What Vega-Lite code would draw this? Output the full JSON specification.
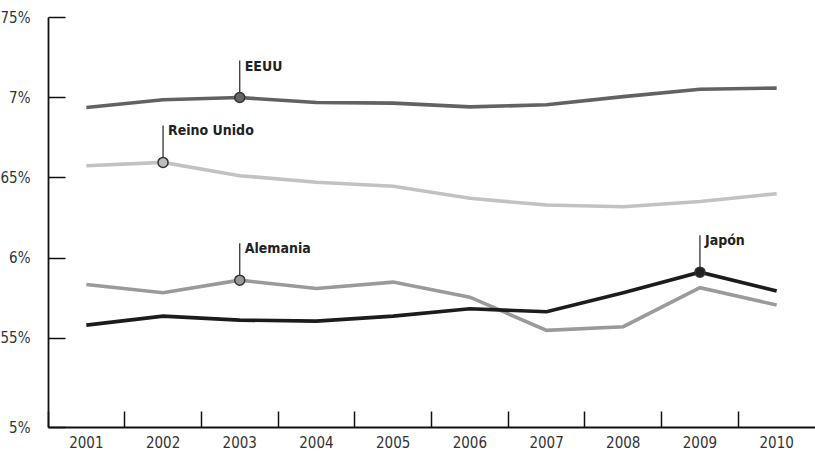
{
  "$schema": "https://vega.github.io/schema/vega-lite/v6.json",
  "width": 767,
  "height": 410,
  "autosize": "none",
  "padding": {"left": 48, "top": 17, "right": 0, "bottom": 26},
  "background": "white",
  "config": {
    "view": {"stroke": null},
    "font": "DejaVu Sans Condensed, Roboto Condensed, Roboto"
  },
  "data": {
    "values": [
      {"country": "EEUU", "year": "2001", "value": 6.936},
      {"country": "EEUU", "year": "2002", "value": 6.984},
      {"country": "EEUU", "year": "2003", "value": 6.998, "label": "EEUU"},
      {"country": "EEUU", "year": "2004", "value": 6.967},
      {"country": "EEUU", "year": "2005", "value": 6.963},
      {"country": "EEUU", "year": "2006", "value": 6.940},
      {"country": "EEUU", "year": "2007", "value": 6.953},
      {"country": "EEUU", "year": "2008", "value": 7.004},
      {"country": "EEUU", "year": "2009", "value": 7.050},
      {"country": "EEUU", "year": "2010", "value": 7.057},
      {"country": "Reino Unido", "year": "2001", "value": 6.573},
      {"country": "Reino Unido", "year": "2002", "value": 6.594, "label": "Reino Unido"},
      {"country": "Reino Unido", "year": "2003", "value": 6.511},
      {"country": "Reino Unido", "year": "2004", "value": 6.470},
      {"country": "Reino Unido", "year": "2005", "value": 6.445},
      {"country": "Reino Unido", "year": "2006", "value": 6.370},
      {"country": "Reino Unido", "year": "2007", "value": 6.328},
      {"country": "Reino Unido", "year": "2008", "value": 6.318},
      {"country": "Reino Unido", "year": "2009", "value": 6.350},
      {"country": "Reino Unido", "year": "2010", "value": 6.399},
      {"country": "Alemania", "year": "2001", "value": 5.833},
      {"country": "Alemania", "year": "2002", "value": 5.782},
      {"country": "Alemania", "year": "2003", "value": 5.860, "label": "Alemania"},
      {"country": "Alemania", "year": "2004", "value": 5.808},
      {"country": "Alemania", "year": "2005", "value": 5.848},
      {"country": "Alemania", "year": "2006", "value": 5.754},
      {"country": "Alemania", "year": "2007", "value": 5.547},
      {"country": "Alemania", "year": "2008", "value": 5.570},
      {"country": "Alemania", "year": "2009", "value": 5.813},
      {"country": "Alemania", "year": "2010", "value": 5.705},
      {"country": "Japón", "year": "2001", "value": 5.580},
      {"country": "Japón", "year": "2002", "value": 5.636},
      {"country": "Japón", "year": "2003", "value": 5.611},
      {"country": "Japón", "year": "2004", "value": 5.605},
      {"country": "Japón", "year": "2005", "value": 5.636},
      {"country": "Japón", "year": "2006", "value": 5.682},
      {"country": "Japón", "year": "2007", "value": 5.663},
      {"country": "Japón", "year": "2008", "value": 5.782},
      {"country": "Japón", "year": "2009", "value": 5.910, "label": "Japón"},
      {"country": "Japón", "year": "2010", "value": 5.792}
    ]
  },
  "encoding": {
    "x": {
      "field": "year",
      "type": "ordinal",
      "scale": {"type": "band", "paddingInner": 0, "paddingOuter": 0},
      "axis": {
        "title": null,
        "labelAngle": 0,
        "bandPosition": 0,
        "tickSize": -16,
        "tickColor": "#111",
        "tickWidth": 1.5,
        "domainColor": "#111",
        "domainWidth": 1.8,
        "labelPadding": 24,
        "labelFontSize": 15,
        "labelColor": "#333",
        "labelFont": "DejaVu Sans Condensed, Roboto Condensed, Roboto"
      }
    },
    "y": {
      "field": "value",
      "type": "quantitative",
      "scale": {"domain": [4.945, 7.5], "nice": false, "zero": false},
      "axis": {
        "title": null,
        "grid": false,
        "values": [4.945, 5.5, 6, 6.5, 7, 7.5],
        "labelExpr": "datum.value < 5.2 ? '5%' : datum.value < 5.7 ? '55%' : datum.value < 6.2 ? '6%' : datum.value < 6.7 ? '65%' : datum.value < 7.2 ? '7%' : '75%'",
        "tickSize": -17,
        "tickColor": "#111",
        "tickWidth": 1.5,
        "domainColor": "#111",
        "domainWidth": 1.8,
        "labelPadding": 35,
        "labelFontSize": 15,
        "labelColor": "#333",
        "labelFont": "DejaVu Sans Condensed, Roboto Condensed, Roboto"
      }
    }
  },
  "layer": [
    {
      "mark": {"type": "line", "strokeWidth": 3.6, "strokeJoin": "miter"},
      "encoding": {
        "color": {
          "field": "country",
          "type": "nominal",
          "scale": {
            "domain": ["Reino Unido", "EEUU", "Alemania", "Japón"],
            "range": ["#c2c2c2", "#626262", "#9a9a9a", "#1c1c1c"]
          },
          "legend": null
        }
      }
    },
    {
      "transform": [{"filter": "datum.label"}],
      "mark": {"type": "rule", "y2Offset": -37, "color": "#222", "strokeWidth": 1.2},
      "encoding": {"y2": {"field": "value"}}
    },
    {
      "transform": [{"filter": "datum.label"}],
      "mark": {"type": "point", "filled": true, "size": 100, "stroke": "#333", "strokeWidth": 1.5, "opacity": 1},
      "encoding": {
        "fill": {
          "field": "country",
          "type": "nominal",
          "scale": {
            "domain": ["Reino Unido", "EEUU", "Alemania", "Japón"],
            "range": ["#bdbdbd", "#666666", "#999999", "#222222"]
          },
          "legend": null
        }
      }
    },
    {
      "transform": [{"filter": "datum.label"}],
      "mark": {"type": "text", "align": "left", "baseline": "top", "dx": 5, "dy": -38, "fontSize": 14, "fontWeight": "bold", "color": "#222", "font": "DejaVu Sans Condensed, Roboto Condensed, Roboto"},
      "encoding": {"text": {"field": "label"}}
    }
  ]
}
